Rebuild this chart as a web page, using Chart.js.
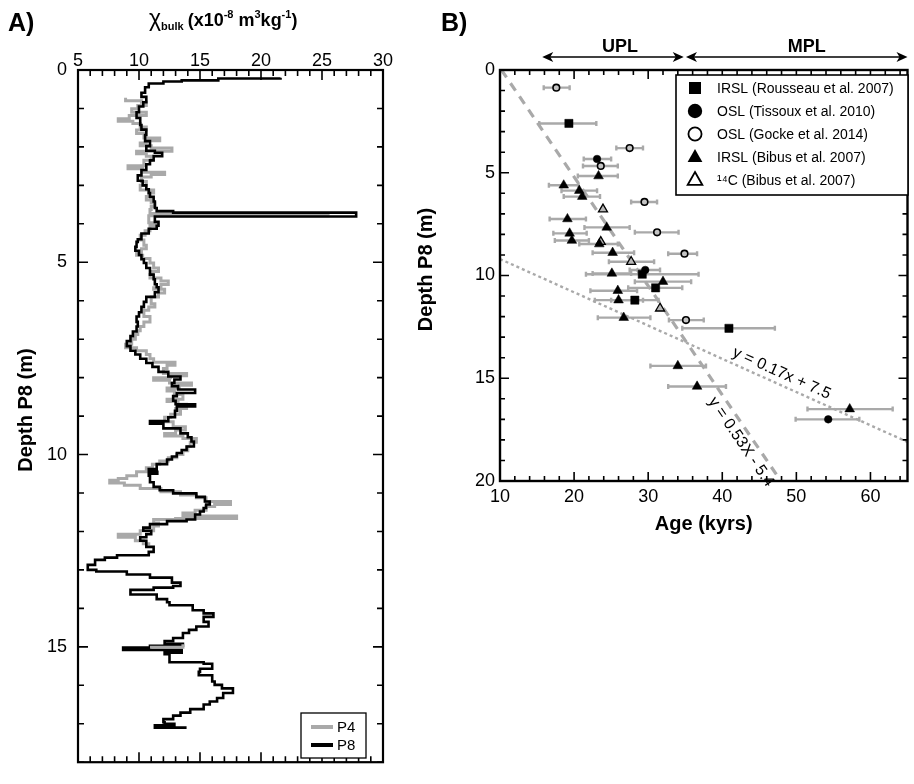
<!DOCTYPE html>
<html><head><meta charset="utf-8">
<script src="https://cdn.jsdelivr.net/npm/chart.js@4"></script>
<style>
html,body{margin:0;padding:0;background:#fff;}
#wrap{position:relative;width:914px;height:784px;overflow:hidden;background:#fff}
canvas{position:absolute;top:0}
#ca{left:0}
#cb{left:400px}
</style></head><body>
<div id="wrap"><canvas id="ca" width="400" height="784"></canvas><canvas id="cb" width="514" height="784"></canvas></div>
<script>
// ---------- Panel A data: magnetic susceptibility vs depth ----------
const p8Depth = [0.20,0.22,0.27,0.30,0.35,0.45,0.59,0.70,0.84,0.95,1.10,1.25,1.43,1.55,1.69,1.85,1.98,2.10,2.15,2.24,2.35,2.45,2.60,2.74,2.88,3.00,3.10,3.20,3.30,3.42,3.59,3.67,3.71,3.81,3.95,4.05,4.13,4.25,4.40,4.47,4.60,4.70,4.81,4.92,5.02,5.15,5.32,5.44,5.57,5.65,5.78,5.90,6.03,6.16,6.30,6.41,6.55,6.67,6.80,6.92,7.05,7.18,7.30,7.40,7.51,7.62,7.72,7.85,7.97,8.05,8.14,8.22,8.31,8.40,8.48,8.60,8.69,8.75,8.86,9.03,9.13,9.20,9.32,9.45,9.55,9.66,9.79,9.88,9.96,10.05,10.13,10.25,10.38,10.45,10.50,10.55,10.72,10.84,10.93,11.01,11.10,11.22,11.30,11.39,11.48,11.56,11.69,11.73,11.81,11.90,11.98,12.07,12.15,12.24,12.40,12.53,12.62,12.68,12.74,12.87,13.00,13.04,13.12,13.20,13.33,13.42,13.46,13.52,13.64,13.76,13.84,13.92,14.05,14.13,14.22,14.35,14.47,14.56,14.64,14.77,14.85,14.92,14.97,15.02,15.08,15.15,15.19,15.27,15.40,15.44,15.57,15.65,15.74,15.90,15.99,16.08,16.20,16.33,16.42,16.50,16.62,16.71,16.79,16.88,16.96,17.00,17.04,17.10];
const p8Chi   = [21.6,16.5,13.5,12.0,10.8,10.5,10.2,10.6,10.35,10.0,9.8,10.1,10.2,10.6,10.5,10.9,10.6,11.3,11.9,11.2,10.9,10.6,10.2,9.9,10.3,10.6,10.8,10.9,11.2,11.3,11.45,12.8,27.8,11.3,11.6,11.45,10.8,10.2,9.9,9.8,9.7,10.0,10.2,10.4,10.6,10.9,11.2,11.3,11.45,11.6,11.3,10.6,10.4,10.2,10.0,9.8,9.9,9.8,9.5,9.3,9.0,9.3,9.7,10.1,10.6,11.1,11.6,12.4,13.4,12.9,12.7,13.2,14.6,13.1,12.8,13.0,14.6,13.1,12.95,12.4,10.9,12.0,13.4,14.0,14.3,14.5,13.9,13.5,13.1,12.7,12.3,11.45,10.8,11.5,10.8,10.9,11.2,11.7,12.8,14.7,15.4,15.8,15.5,15.3,15.0,14.6,13.9,12.3,10.9,10.35,11.0,10.6,10.1,10.6,11.2,10.8,8.2,7.2,6.4,5.8,6.5,9.0,10.9,12.7,13.4,12.8,11.2,9.3,11.45,12.3,12.5,14.4,15.3,16.1,15.3,15.7,14.7,14.1,13.6,12.8,12.1,13.6,10.9,8.7,13.5,12.1,12.5,12.5,15.3,16.0,15.0,14.9,16.0,16.2,16.8,17.7,16.9,16.4,15.8,15.3,14.2,13.4,12.8,12.0,12.1,12.9,11.3,13.9];
const p4Depth = [0.72,0.80,0.84,0.92,1.01,1.10,1.18,1.27,1.33,1.39,1.48,1.56,1.65,1.77,1.84,1.90,1.97,2.03,2.11,2.18,2.24,2.35,2.49,2.57,2.66,2.72,2.78,2.90,3.00,3.12,3.20,3.29,3.38,3.46,3.55,3.63,3.73,3.79,3.88,3.97,4.05,4.18,4.30,4.42,4.56,4.65,4.73,4.82,4.90,5.02,5.15,5.24,5.32,5.41,5.49,5.58,5.66,5.70,5.80,5.90,6.08,6.16,6.25,6.41,6.55,6.67,6.78,6.88,7.00,7.13,7.22,7.30,7.40,7.51,7.60,7.68,7.76,7.89,7.95,8.00,8.07,8.14,8.20,8.27,8.35,8.44,8.56,8.62,8.69,8.80,8.86,8.95,9.03,9.15,9.28,9.36,9.45,9.52,9.58,9.68,9.79,9.90,10.00,10.08,10.17,10.25,10.34,10.45,10.55,10.62,10.67,10.74,10.80,10.88,10.97,11.05,11.12,11.22,11.30,11.35,11.45,11.52,11.60,11.66,11.69,11.78,11.86,11.98,12.07,12.15,12.24,12.32,12.36];
const p4Chi   = [8.9,10.2,10.6,9.9,9.4,10.6,9.2,8.3,9.5,10.1,10.6,9.8,10.4,11.7,10.6,10.1,11.0,12.7,9.8,10.6,11.0,10.4,9.1,10.3,12.1,11.0,10.2,10.6,10.1,11.2,10.8,10.6,11.0,11.3,11.0,10.9,25.5,10.8,10.8,11.5,10.9,10.5,10.1,10.4,10.6,10.2,9.8,10.3,10.9,11.2,11.6,11.1,10.9,11.8,12.4,11.8,11.2,12.1,11.6,11.0,11.3,10.8,10.4,10.9,10.4,10.1,9.9,9.7,9.4,8.9,9.8,10.6,10.9,11.2,12.95,12.3,12.0,13.9,12.6,11.2,12.5,14.3,13.3,12.3,12.9,13.6,12.3,13.2,13.9,13.0,13.4,12.6,12.1,12.8,13.8,13.0,12.1,13.6,14.7,14.2,14.0,13.6,13.1,12.4,11.7,11.1,10.6,9.8,9.0,8.3,7.6,8.8,10.1,11.8,13.4,14.7,15.5,17.5,16.2,15.5,14.6,13.6,18.0,13.0,11.2,11.6,11.2,10.1,8.3,9.7,10.35,10.8,10.8];
const p4bDepth = [14.93,14.97,15.01];
const p4bChi   = [13.6,13.6,10.9];

// ---------- Panel B data: ages vs depth ----------
const rousAge = [19.3,29.2,31.0,28.2,40.9];
const rousDepth = [2.6,9.94,10.6,11.2,12.57];
const rousLo = [15.3,21.6,27.3,25.0,34.6];
const rousHi = [23.0,36.8,34.6,31.4,47.1];

const tissAge = [23.1,29.6,54.3];
const tissDepth = [4.33,9.73,17.0];
const tissLo = [21.3,27.5,49.9];
const tissHi = [25.0,31.6,58.5];

const gockeAge = [17.6,27.5,23.6,29.5,31.2,34.9,35.1];
const gockeDepth = [0.86,3.8,4.67,6.42,7.9,8.94,12.17];
const gockeLo = [15.9,25.7,21.2,27.7,28.2,32.7,32.8];
const gockeHi = [19.4,29.3,25.9,31.2,34.1,36.6,37.5];

const bibusAge = [23.3,18.6,20.7,21.1,19.1,24.4,19.4,19.7,23.4,25.2,25.1,32.0,25.9,26.0,26.7,34.0,36.6,57.2];
const bibusDepth = [5.16,5.61,5.87,6.16,7.25,7.66,7.95,8.3,8.47,8.89,9.9,10.3,10.74,11.2,12.05,14.4,15.4,16.5];
const bibusLo = [20.5,16.6,18.3,18.6,16.7,21.4,17.2,17.4,20.7,22.5,22.5,28.2,22.2,22.8,23.2,30.3,32.7,51.5];
const bibusHi = [25.9,20.6,23.1,23.5,21.6,27.5,21.7,22.0,25.9,28.1,27.7,35.8,28.5,29.3,30.3,37.8,40.5,63.0];

const c14Age = [23.9,23.6,27.7,31.6];
const c14Depth = [6.78,8.36,9.33,11.6];
const c14Lo = [null,null,24.7,null];
const c14Hi = [null,null,30.8,null];

const fitSteepAge = [10.2,47.9];
const fitSteepDepth = [0,20];
const fitFlatAge = [10,65];
const fitFlatDepth = [9.2,18.1];

const uplRange = [15.7,34.8];
const mplRange = [35.1,65];

const xTicksA = [5,10,15,20,25,30];
const yTicksA = [0,5,10,15];
const xTicksB = [10,20,30,40,50,60];
const yTicksB = [0,5,10,15,20];

const legendB = ['IRSL (Rousseau et al. 2007)','OSL (Tissoux et al. 2010)','OSL (Gocke et al. 2014)','IRSL (Bibus et al. 2007)','\u00B9\u2074C (Bibus et al. 2007)'];

const FONT = '"Liberation Sans", Arial, Helvetica, sans-serif';
const GRAY = '#a9a9a9';

function pts(xs, ys){ return xs.map((v,i)=>({x:v, y:ys[i]})); }

// frame + inward ticks on all four sides
const framePlugin = {
  id:'frame',
  afterDatasetsDraw(chart, args, o){
    const {ctx, chartArea:a, scales:{x,y}} = chart;
    ctx.save();
    ctx.strokeStyle='#000';
    ctx.lineWidth=1.6;
    ctx.beginPath();
    const isMaj=(v,m)=>Math.abs(v/m-Math.round(v/m))<1e-6;
    for(let v=x.min; v<=x.max+1e-9; v+=o.xMinor){
      const px=x.getPixelForValue(v); const L=isMaj(v,o.xMajor)?o.majLen:o.minLen;
      ctx.moveTo(px,a.top); ctx.lineTo(px,a.top+L);
      ctx.moveTo(px,a.bottom); ctx.lineTo(px,a.bottom-L);
    }
    for(let v=y.min; v<=y.max+1e-9; v+=o.yMinor){
      const py=y.getPixelForValue(v); const L=isMaj(v,o.yMajor)?o.majLen:o.minLen;
      ctx.moveTo(a.left,py); ctx.lineTo(a.left+L,py);
      ctx.moveTo(a.right,py); ctx.lineTo(a.right-L,py);
    }
    ctx.stroke();
    ctx.lineWidth=o.lw;
    ctx.strokeRect(a.left,a.top,a.right-a.left,a.bottom-a.top);
    ctx.restore();
  }
};

// ---------- Panel A ----------
const annotA = {
  id:'annotA',
  afterDraw(chart){
    const {ctx, chartArea:a} = chart;
    ctx.save();
    ctx.fillStyle='#000';
    ctx.textBaseline='alphabetic';
    ctx.font='bold 25px '+FONT;
    ctx.fillText('A)',8,31);
    // top title
    let cx=149; const base=26;
    ctx.font='23px '+FONT; ctx.fillText('\u03C7',cx,base); cx+=ctx.measureText('\u03C7').width;
    ctx.font='bold 11px '+FONT; ctx.fillText('bulk',cx,base+4); cx+=ctx.measureText('bulk').width+4;
    const seg=(t,sz,dy)=>{ctx.font='bold '+sz+'px '+FONT; ctx.fillText(t,cx,base+dy); cx+=ctx.measureText(t).width;};
    seg('(x10',18,0); seg('-8',11,-8); seg(' m',18,0); seg('3',11,-8); seg('kg',18,0); seg('-1',11,-8); seg(')',18,0);
    // y title
    ctx.font='bold 20px '+FONT;
    ctx.translate(32,(a.top+a.bottom)/2-6);
    ctx.rotate(-Math.PI/2);
    ctx.textAlign='center';
    ctx.fillText('Depth P8 (m)',0,0);
    ctx.restore();
    // legend
    ctx.save();
    const lx=301, ly=713, lw=65, lh=45;
    ctx.fillStyle='#fff'; ctx.fillRect(lx,ly,lw,lh);
    ctx.strokeStyle='#000'; ctx.lineWidth=1.3; ctx.strokeRect(lx,ly,lw,lh);
    ctx.lineWidth=4;
    ctx.strokeStyle=GRAY; ctx.beginPath(); ctx.moveTo(311,727); ctx.lineTo(333,727); ctx.stroke();
    ctx.strokeStyle='#000'; ctx.beginPath(); ctx.moveTo(311,745); ctx.lineTo(333,745); ctx.stroke();
    ctx.fillStyle='#000'; ctx.font='15px '+FONT; ctx.textBaseline='middle';
    ctx.fillText('P4',337,728); ctx.fillText('P8',337,746);
    ctx.restore();
  }
};

new Chart(document.getElementById('ca'), {
  type:'scatter',
  data:{datasets:[
    {label:'P8', data:pts(p8Chi,p8Depth), showLine:true, stepped:'after', borderColor:'#000', borderWidth:2.6, pointRadius:0, fill:false, order:1},
    {label:'P4', data:pts(p4Chi,p4Depth), showLine:true, stepped:'after', borderColor:GRAY, borderWidth:3, pointRadius:0, fill:false, order:2},
    {label:'P4b', data:pts(p4bChi,p4bDepth), showLine:true, stepped:'after', borderColor:GRAY, borderWidth:3, pointRadius:0, fill:false, order:0}
  ]},
  options:{
    responsive:false, animation:false, devicePixelRatio:1, events:[],
    layout:{padding:{left:0,right:17,top:0,bottom:2}},
    plugins:{legend:{display:false}, tooltip:{enabled:false},
      frame:{xMinor:1,xMajor:5,yMinor:1,yMajor:5,minLen:6,majLen:10,lw:2.2}},
    scales:{
      x:{type:'linear', position:'top', min:5, max:30,
         afterBuildTicks:s=>{s.ticks=xTicksA.map(v=>({value:v}));},
         ticks:{font:{family:FONT,size:18}, color:'#000', padding:-2},
         grid:{display:false, drawTicks:false}, border:{display:false},
         afterFit:s=>{s.height=70;}},
      y:{type:'linear', reverse:true, min:0, max:18,
         afterBuildTicks:s=>{s.ticks=yTicksA.map(v=>({value:v}));},
         ticks:{font:{family:FONT,size:18}, color:'#000', padding:11},
         grid:{display:false, drawTicks:false}, border:{display:false},
         afterFit:s=>{s.width=78;}}
    }
  },
  plugins:[framePlugin, annotA]
});

// ---------- Panel B ----------
const errPlugin = {
  id:'errbars',
  beforeDatasetsDraw(chart){
    const {ctx, scales:{x,y}} = chart;
    ctx.save();
    ctx.strokeStyle=GRAY; ctx.lineWidth=2.4;
    chart.data.datasets.forEach(ds=>{
      if(!ds.errLo) return;
      ds.data.forEach((p,i)=>{
        const lo=ds.errLo[i], hi=ds.errHi[i];
        if(lo==null||hi==null) return;
        const py=y.getPixelForValue(p.y), x1=x.getPixelForValue(lo), x2=x.getPixelForValue(hi);
        ctx.beginPath();
        ctx.moveTo(x1,py); ctx.lineTo(x2,py);
        ctx.moveTo(x1,py-2.5); ctx.lineTo(x1,py+2.5);
        ctx.moveTo(x2,py-2.5); ctx.lineTo(x2,py+2.5);
        ctx.stroke();
      });
    });
    ctx.restore();
  }
};

function drawMarker(ctx, kind, cx, cy, s){
  ctx.save();
  ctx.lineWidth=1.8; ctx.strokeStyle='#000';
  ctx.beginPath();
  if(kind==='rect'){ ctx.rect(cx-s*0.75,cy-s*0.75,s*1.5,s*1.5); ctx.fillStyle='#000'; ctx.fill(); }
  else if(kind==='circle'){ ctx.arc(cx,cy,s*0.9,0,Math.PI*2); ctx.fillStyle='#000'; ctx.fill(); }
  else if(kind==='ocircle'){ ctx.arc(cx,cy,s*0.82,0,Math.PI*2); ctx.fillStyle='#fff'; ctx.fill(); ctx.stroke(); }
  else { const r=s; ctx.moveTo(cx,cy-r); ctx.lineTo(cx+r*0.92,cy+r*0.62); ctx.lineTo(cx-r*0.92,cy+r*0.62); ctx.closePath();
    if(kind==='tri'){ctx.fillStyle='#000'; ctx.fill();} else {ctx.fillStyle='#fff'; ctx.fill(); ctx.stroke();} }
  ctx.restore();
}

const annotB = {
  id:'annotB',
  afterDraw(chart){
    const {ctx, chartArea:a, scales:{x,y}} = chart;
    ctx.save();
    ctx.fillStyle='#000';
    ctx.font='bold 25px '+FONT;
    ctx.fillText('B)',41,31);
    // axis titles
    ctx.font='bold 20px '+FONT; ctx.textAlign='center';
    ctx.fillText('Age (kyrs)',(a.left+a.right)/2,530);
    ctx.save(); ctx.translate(32,(a.top+a.bottom)/2-6); ctx.rotate(-Math.PI/2); ctx.fillText('Depth P8 (m)',0,0); ctx.restore();
    // UPL / MPL arrows
    const ay=57;
    const arrow=(r)=>{
      const x1=x.getPixelForValue(r[0]), x2=x.getPixelForValue(r[1]);
      ctx.strokeStyle='#000'; ctx.lineWidth=1.5;
      ctx.beginPath(); ctx.moveTo(x1+6,ay); ctx.lineTo(x2-6,ay); ctx.stroke();
      ctx.beginPath(); ctx.moveTo(x1,ay); ctx.lineTo(x1+11,ay-5); ctx.lineTo(x1+8,ay); ctx.lineTo(x1+11,ay+5); ctx.closePath(); ctx.fill();
      ctx.beginPath(); ctx.moveTo(x2,ay); ctx.lineTo(x2-11,ay-5); ctx.lineTo(x2-8,ay); ctx.lineTo(x2-11,ay+5); ctx.closePath(); ctx.fill();
    };
    arrow(uplRange); arrow(mplRange);
    ctx.font='bold 18px '+FONT;
    ctx.fillText('UPL',x.getPixelForValue((uplRange[0]+uplRange[1])/2)+7,52);
    ctx.fillText('MPL',x.getPixelForValue((mplRange[0]+mplRange[1])/2)+10,52);
    // fit labels
    ctx.font='16px '+FONT; ctx.textBaseline='middle';
    const lab=(xs,ys,t,frac,off)=>{
      const x1=x.getPixelForValue(xs[0]), y1=y.getPixelForValue(ys[0]);
      const x2=x.getPixelForValue(xs[1]), y2=y.getPixelForValue(ys[1]);
      const ang=Math.atan2(y2-y1,x2-x1);
      const px=x1+(x2-x1)*frac, py=y1+(y2-y1)*frac;
      ctx.save(); ctx.translate(px+Math.sin(ang)*off, py-Math.cos(ang)*off); ctx.rotate(ang);
      ctx.fillText(t,0,0); ctx.restore();
    };
    lab(fitFlatAge,fitFlatDepth,'y = 0.17x + 7.5',0.68,11);
    lab(fitSteepAge,fitSteepDepth,'y = 0.53X - 5.4',0.89,-11);
    ctx.restore();
    // legend
    ctx.save();
    const lx=276, ly=75, lw=232, lh=120;
    ctx.fillStyle='#fff'; ctx.fillRect(lx,ly,lw,lh);
    ctx.strokeStyle='#000'; ctx.lineWidth=1.6; ctx.strokeRect(lx,ly,lw,lh);
    const kinds=['rect','circle','ocircle','tri','otri'];
    const ys=[88,111,134,157,180];
    ctx.font='14px '+FONT; ctx.textBaseline='middle'; ctx.fillStyle='#000';
    kinds.forEach((k,i)=>{
      drawMarker(ctx,k,295,ys[i],8);
      ctx.fillStyle='#000';
      ctx.fillText(legendB[i],317,ys[i]+1);
    });
    ctx.restore();
  }
};

const errDs=(lab,xs,ys,lo,hi,style,r,fill,bw)=>({label:lab,data:pts(xs,ys),errLo:lo,errHi:hi,
  pointStyle:style,pointRadius:r,backgroundColor:fill,borderColor:'#000',borderWidth:bw,showLine:false});

new Chart(document.getElementById('cb'), {
  type:'scatter',
  data:{datasets:[
    errDs('IRSL R',rousAge,rousDepth,rousLo,rousHi,'rect',5.8,'#000',0.5),
    errDs('OSL T',tissAge,tissDepth,tissLo,tissHi,'circle',3.8,'#000',0.5),
    errDs('OSL G',gockeAge,gockeDepth,gockeLo,gockeHi,'circle',3.3,'#c4c4c4',1.6),
    errDs('IRSL B',bibusAge,bibusDepth,bibusLo,bibusHi,'triangle',5.6,'#000',0.5),
    errDs('14C',c14Age,c14Depth,c14Lo,c14Hi,'triangle',5.2,'#b8b8b8',1.3),
    {label:'fit1',data:pts(fitSteepAge,fitSteepDepth),showLine:true,pointRadius:0,borderColor:GRAY,borderWidth:3.2,borderDash:[9,7]},
    {label:'fit2',data:pts(fitFlatAge,fitFlatDepth),showLine:true,pointRadius:0,borderColor:GRAY,borderWidth:2.4,borderDash:[3,3]}
  ]},
  options:{
    responsive:false, animation:false, devicePixelRatio:1, events:[],
    layout:{padding:{left:0,right:2,top:70,bottom:243}},
    plugins:{legend:{display:false}, tooltip:{enabled:false},
      frame:{xMinor:2,xMajor:10,yMinor:1,yMajor:5,minLen:5,majLen:9,lw:2.4}},
    scales:{
      x:{type:'linear', position:'bottom', min:10, max:65,
         afterBuildTicks:s=>{s.ticks=xTicksB.map(v=>({value:v}));},
         ticks:{font:{family:FONT,size:18}, color:'#000', padding:5},
         grid:{display:false, drawTicks:false}, border:{display:false},
         afterFit:s=>{s.height=60;}},
      y:{type:'linear', reverse:true, min:0, max:20,
         afterBuildTicks:s=>{s.ticks=yTicksB.map(v=>({value:v}));},
         ticks:{font:{family:FONT,size:18}, color:'#000', padding:5},
         grid:{display:false, drawTicks:false}, border:{display:false},
         afterFit:s=>{s.width=100;}}
    }
  },
  plugins:[errPlugin, framePlugin, annotB]
});
</script>
</body></html>
